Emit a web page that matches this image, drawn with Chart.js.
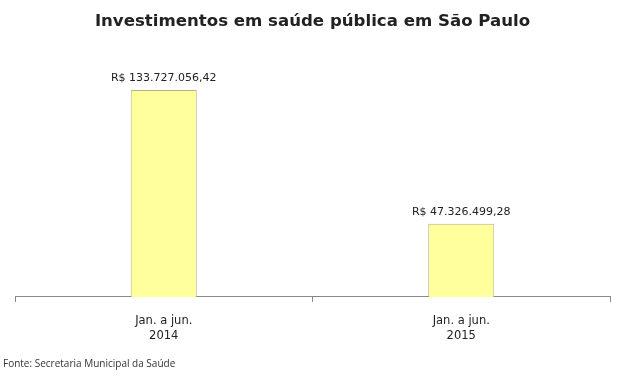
<!DOCTYPE html>
<html>
<head>
<meta charset="utf-8">
<script src="https://cdn.jsdelivr.net/npm/chart.js@4/dist/chart.umd.min.js"></script>
<style>
  html, body { margin: 0; padding: 0; background: #fff; }
  #wrap { width: 624px; height: 375px; }
</style>
</head>
<body>
<div id="wrap"><canvas id="chart" width="624" height="375"></canvas></div>
<script>
// Data
const periods = [["Jan. a jun.", "2014"], ["Jan. a jun.", "2015"]];
const investimentos = [133727056.42, 47326499.28];
const fonte = "Fonte: Secretaria Municipal da Saúde";

// pt-BR currency formatting, done by hand
const fmtBRL = (v) => {
  const [int, dec] = v.toFixed(2).split(".");
  return "R$ " + int.replace(/\B(?=(\d{3})+(?!\d))/g, ".") + "," + dec;
};

// Value labels above bars + source note
const barLabels = {
  id: "barLabels",
  afterDatasetsDraw(chart) {
    const ctx = chart.ctx;
    const meta = chart.getDatasetMeta(0);
    ctx.save();
    ctx.font = "11px 'DejaVu Sans'";
    ctx.fillStyle = "#222";
    ctx.textAlign = "center";
    ctx.textBaseline = "bottom";
    meta.data.forEach((bar, i) => {
      ctx.fillText(fmtBRL(investimentos[i]), bar.x, bar.y - 6);
    });
    // footer
    ctx.font = "10px 'Open Sans'";
    ctx.fillStyle = "#333";
    ctx.textAlign = "left";
    ctx.textBaseline = "middle";
    ctx.fillText(fonte, 3, chart.height - 11);
    ctx.restore();
  },
};

new Chart(document.getElementById("chart"), {
  type: "bar",
  data: {
    labels: periods,
    datasets: [
      {
        data: investimentos,
        backgroundColor: "#ffff9c",
        borderColor: "#b4b48c",
        borderWidth: 1,
        categoryPercentage: 1,
        barPercentage: 0.222,
      },
    ],
  },
  options: {
    responsive: false,
    animation: false,
    layout: { padding: { left: 15, right: 14, top: 0, bottom: 20 } },
    plugins: {
      legend: { display: false },
      tooltip: { enabled: false },
      title: {
        display: true,
        text: "Investimentos em saúde pública em São Paulo",
        color: "#222",
        font: { family: "'DejaVu Sans'", size: 16.6, weight: "bold" },
        padding: { top: 12, bottom: 33 },
      },
    },
    scales: {
      x: {
        grid: {
          display: true,
          drawOnChartArea: false,
          drawTicks: true,
          tickLength: 5,
          color: "#888",
        },
        border: { display: true, color: "#888", width: 1 },
        ticks: {
          color: "#222",
          font: { family: "'DejaVu Sans'", size: 11.5, lineHeight: 1.35 },
          padding: 11,
          maxRotation: 0,
        },
      },
      y: {
        display: false,
        min: 0,
        max: 150000000,
      },
    },
  },
  plugins: [barLabels],
});
</script>
</body>
</html>
